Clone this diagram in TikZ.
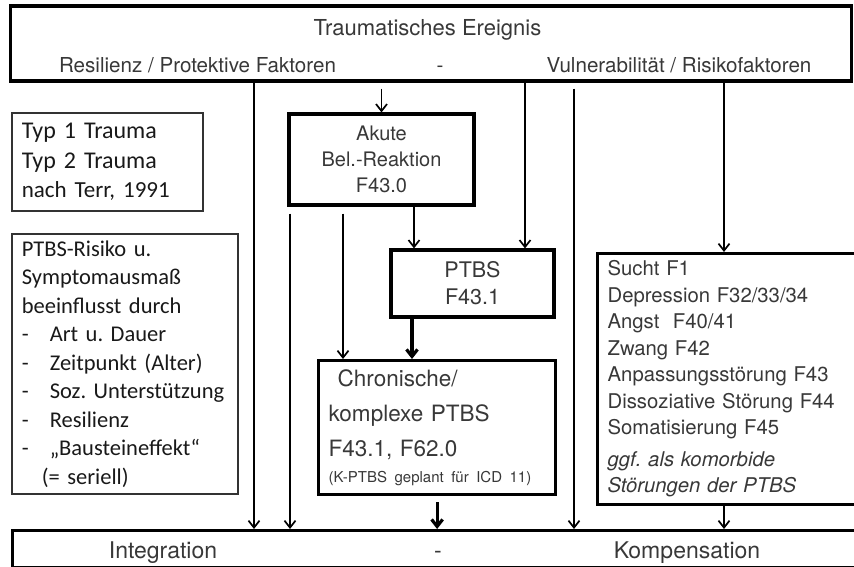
\documentclass[tikz,border=0pt]{standalone}
\usepackage{fontspec}
\setmainfont{TeX Gyre Heros}
\newfontfamily\calfont{Carlito}
\usetikzlibrary{arrows.meta}
\usetikzlibrary{positioning,shapes,fit}
\usepackage{xcolor}
\definecolor{txtgray}{HTML}{383838}
\frenchspacing

\begin{document}
\begin{tikzpicture}[%
        x=1pt, y=-1pt,
        every node/.style={rectangle, inner sep=0pt, text=txtgray},
        box/.style={draw=black, line width=3.2pt},
        thinbox/.style={draw=black!80, line width=1.6pt, text=black!90, anchor=north west,
          align=left, inner xsep=10pt},
        line width=1.7pt,
        >={Straight Barb[length=7pt,width=11pt]},
        fat/.style={line width=3.2pt}
      ]
      \useasboundingbox (0,0) rectangle (854,566);
      % top and bottom bars
      \node [box] (top) [minimum width=841pt, minimum height=75pt] at (431,43.5) {};
      \node (title) [anchor=base, font=\fontsize{22}{26}\selectfont] at (427.5,35) {Traumatisches Ereignis};
      \node (resil) [anchor=base, font=\fontsize{20.6}{24}\selectfont] at (197.5,72) {Resilienz / Protektive Faktoren};
      \node (dashA) [anchor=base, font=\fontsize{20.6}{24}\selectfont] at (440,72) {-};
      \node (vuln) [anchor=base, font=\fontsize{20.6}{24}\selectfont] at (679,72) {Vulnerabilität / Risikofaktoren};
      \node [box] (bot) [anchor=north west, minimum width=850pt, minimum height=37pt] at (10.5,529) {};
      \node (integ) [anchor=base, font=\fontsize{23}{27}\selectfont] at (163,558) {Integration};
      \node (dashB) [anchor=base, font=\fontsize{23}{27}\selectfont] at (438,558) {-};
      \node (komp) [anchor=base, font=\fontsize{23}{27}\selectfont] at (687,558) {Kompensation};
      % left boxes
      \node [thinbox] (typ) [minimum height=98pt, text width=171pt,
        font=\calfont\fontsize{24}{29.5}\selectfont] at (11,112)
        {Typ 1 Trauma\\Typ 2 Trauma\\{\fontsize{23}{28}\selectfont nach Terr, 1991}};
      \node [thinbox] (risk) [minimum height=260pt, text width=206pt,
        font=\calfont\fontsize{22.5}{28.5}\selectfont] at (11,233)
        {PTBS-Risiko u.\\Symptomausmaß\\beeinflusst durch\\
         \makebox[28pt][l]{-}Art u. Dauer\\
         \makebox[28pt][l]{-}Zeitpunkt (Alter)\\
         \makebox[28pt][l]{-}\mbox{Soz. Unterstützung}\\
         \makebox[28pt][l]{-}Resilienz\\
         \makebox[28pt][l]{-}„Bausteineffekt“\\
         \hspace*{20pt}(= seriell)};
      % diagnoses
      \node [box] (akute) [minimum width=185pt, minimum height=91pt, align=center,
        font=\fontsize{20}{26}\selectfont] at (381.5,159.5) {Akute\\Bel.-Reaktion\\F43.0};
      \node [box] (ptbs) [minimum width=163pt, minimum height=67pt, align=center,
        font=\fontsize{21.5}{27}\selectfont] at (472.5,283.5) {PTBS\\F43.1};
      \node [box] (chron) [anchor=north west, minimum height=134pt, text width=217pt,
        inner xsep=10pt, align=left, font=\fontsize{22.5}{26}\selectfont] at (317,359)
        {\hspace*{9pt}Chronische/\\[9pt]komplexe PTBS\\[9pt]F43.1, F62.0\\
         {\fontsize{15}{18}\selectfont (K-PTBS geplant für ICD 11)}};
      \node [box] (sucht) [anchor=north west, minimum height=251pt, text width=244pt,
        inner xsep=10pt, align=left, font=\fontsize{20.3}{26.5}\selectfont] at (596,252)
        {Sucht F1\\Depression F32/33/34\\Angst~ F40/41\\Zwang F42\\
         Anpassungsstörung F43\\Dissoziative Störung F44\\Somatisierung F45\\[5pt]
         \itshape ggf. als komorbide\\\itshape Störungen der PTBS};
      % line positions
      \coordinate (c1) at (254,0);
      \coordinate (c2) at (525,0);
      \coordinate (c3) at (574,0);
      \coordinate (c4) at (724,0);
      \coordinate (c5) at (343,0);
      \coordinate (c6) at (414,0);
      \coordinate (c7) at (412,0);
      \coordinate (c8) at (290,0);
      \path [draw] (top.south -| c1) edge[->] (bot.north -| c1)
      ([yshift=-6pt]top.south -| akute.north) edge[->] (akute.north)
      (top.south -| c2) edge[->] (ptbs.north -| c2)
      ([yshift=-6pt]top.south -| c3) edge[->] (bot.north -| c3)
      (top.south -| c4) edge[->] (sucht.north -| c4)
      ([yshift=-7pt]akute.south -| c8) edge[->] (bot.north -| c8)
      ([yshift=-7pt]akute.south -| c5) edge[->] (chron.north -| c5)
      (akute.south -| c6) edge[->] (ptbs.north -| c6)
      (sucht.south -| c4) edge[->] (bot.north -| c4);
      \draw [fat, ->] (ptbs.south -| c7) -- (chron.north -| c7);
      \draw [fat, ->] ([yshift=-6pt]chron.south) -- (bot.north -| chron.south);
    \end{tikzpicture}
\end{document}
